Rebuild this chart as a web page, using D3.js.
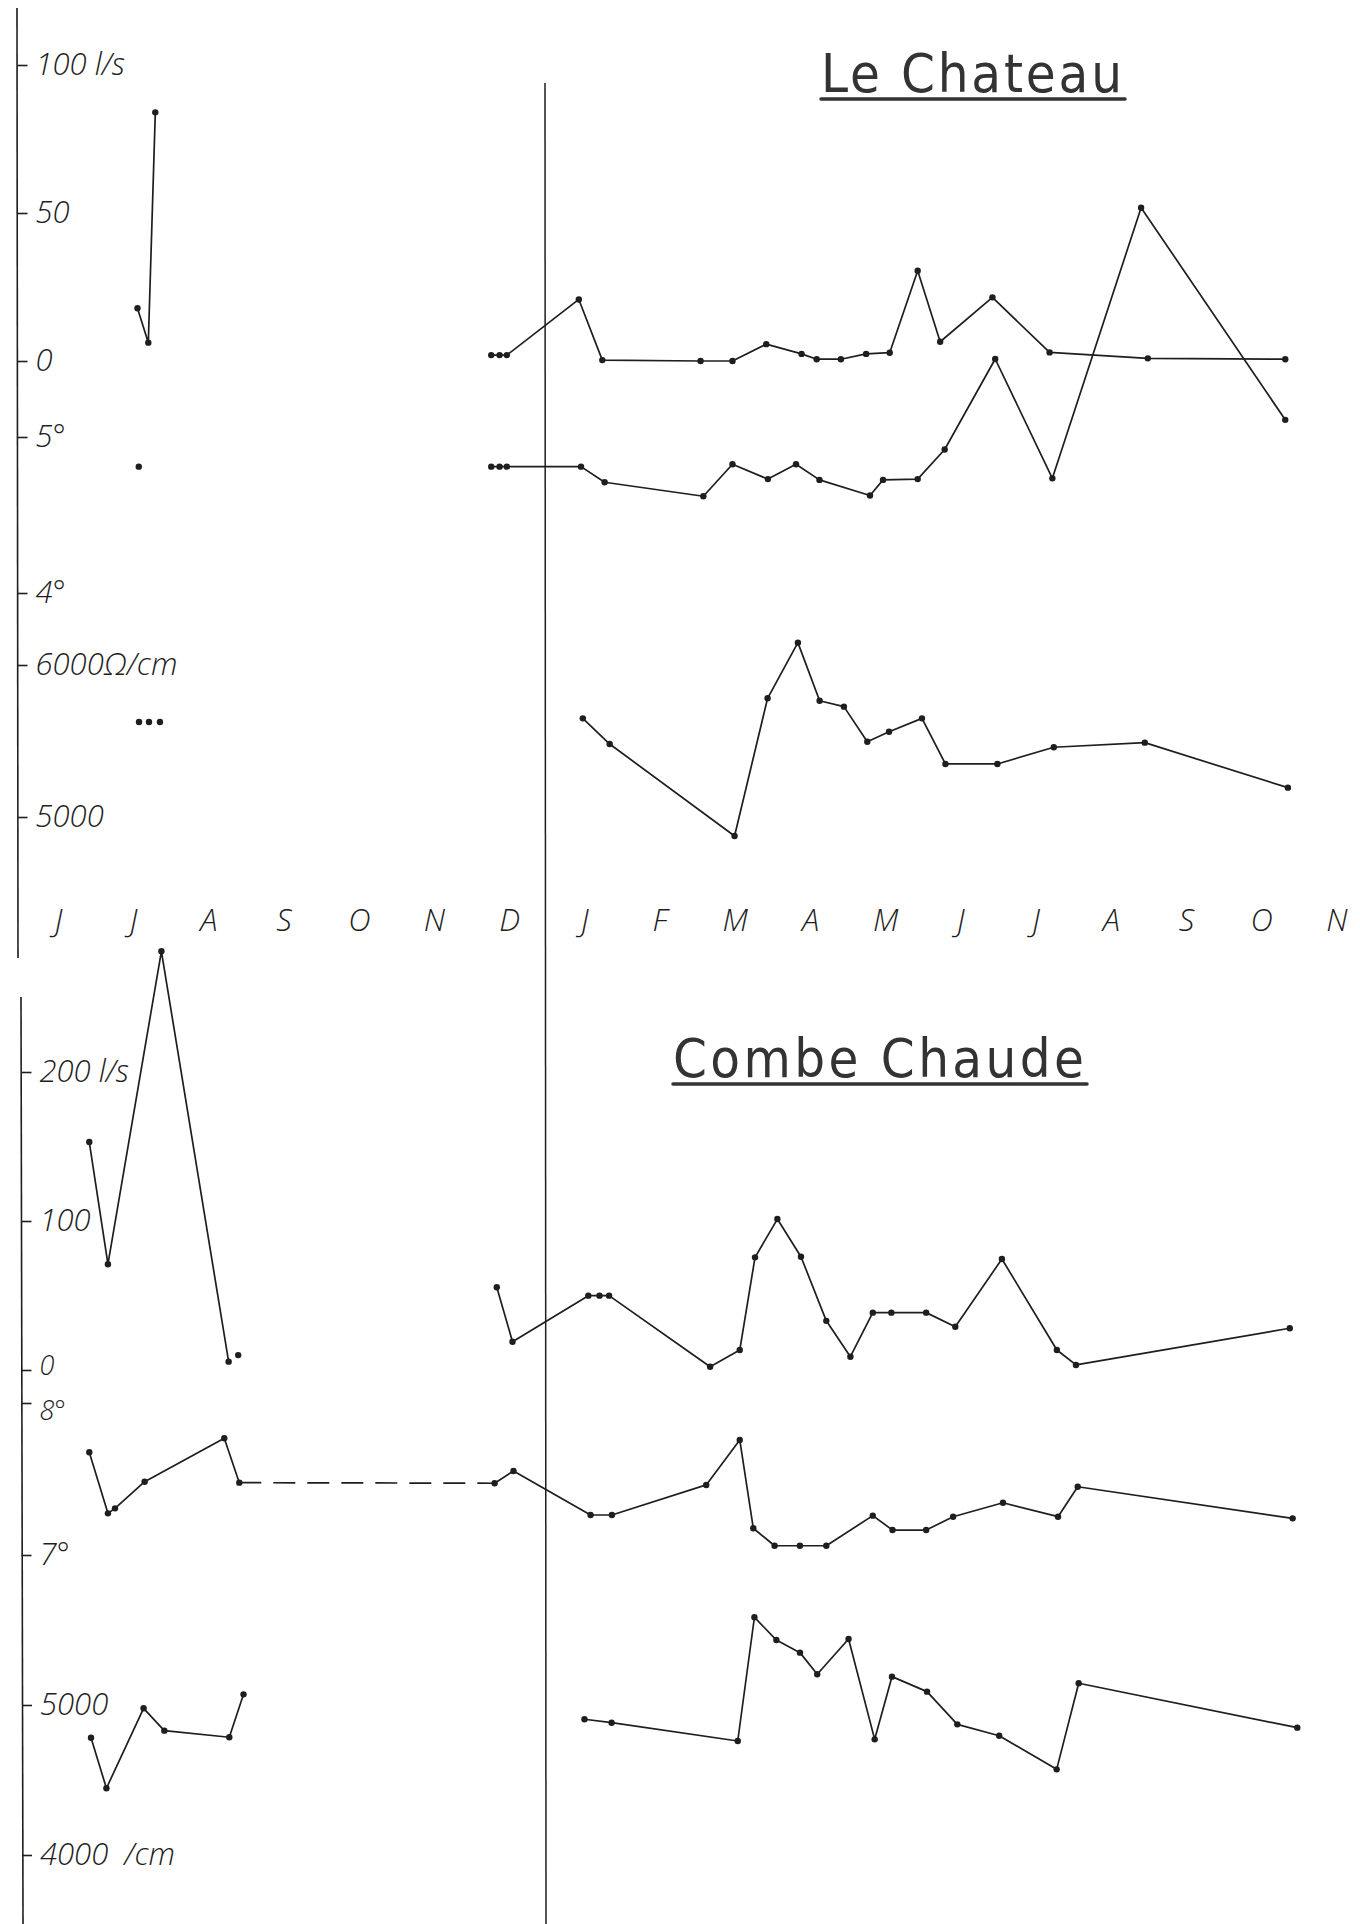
<!DOCTYPE html>
<html><head><meta charset="utf-8">
<script src="https://cdn.jsdelivr.net/npm/d3@7"></script>
<style>html,body{margin:0;padding:0;background:#fff}</style>
</head><body>
<svg id="c" width="1360" height="1924"></svg>
<script>
// ---------- DATA ----------
const months = ["J","J","A","S","O","N","D","J","F","M","A","M","J","J","A","S","O","N"];

// Le Chateau : débit (l/s), température (°), résistivité (Ω/cm)  [month position, value]
const chFlowEarly = [[1.057,17.8],[1.201,6.2],[1.294,84]];
const chFlow = [[5.761,2],[5.872,2],[5.969,2],[6.926,20.8],[7.238,0.3],[8.545,0],[8.969,0],[9.418,5.7],[9.888,2.4],[10.089,0.6],[10.411,0.6],[10.746,2.4],[11.060,2.8],[11.432,30.5],[11.731,6.5],[12.426,21.5],[13.186,2.9],[14.492,0.9],[16.320,0.6]];
const chTempEarly = [[1.074,4.81]];
const chTemp = [[5.761,4.81],[5.872,4.81],[5.969,4.81],[6.955,4.81],[7.269,4.71],[8.582,4.62],[8.969,4.825],[9.440,4.73],[9.814,4.825],[10.126,4.725],[10.798,4.625],[10.971,4.725],[11.432,4.73],[11.791,4.92],[12.463,5.50],[13.223,4.735],[14.403,6.47],[16.320,5.11]];
const chResEarly = [[1.077,5625],[1.210,5625],[1.356,5625]];
const chRes = [[6.979,5649],[7.336,5480],[8.997,4875],[9.436,5781],[9.839,6147],[10.128,5765],[10.451,5726],[10.762,5495],[11.051,5561],[11.489,5649],[11.801,5349],[12.492,5349],[13.242,5459],[14.452,5489],[16.355,5193]];

// Combe Chaude
const ccFlowEarly = [[0.416,153],[0.664,71],[1.375,281],[2.269,5.6]];
const ccFlowLone = [[2.396,10]];
const ccFlow = [[5.835,55.5],[6.044,19],[7.052,49.9],[7.201,49.9],[7.328,49.9],[8.672,2.2],[9.066,13.4],[9.269,75.6],[9.566,101.3],[9.880,76],[10.217,33],[10.537,8.9],[10.835,38.5],[11.082,38.5],[11.545,38.5],[11.932,29],[12.552,74.5],[13.283,13.4],[13.537,3.4],[16.380,28]];
const ccTempEarly = [[0.416,7.676],[0.664,7.274],[0.758,7.307],[1.152,7.482],[2.211,7.768],[2.411,7.476]];
const ccTemp = [[5.806,7.472],[6.057,7.553],[7.082,7.263],[7.366,7.263],[8.620,7.461],[9.066,7.757],[9.246,7.176],[9.529,7.061],[9.866,7.061],[10.217,7.061],[10.835,7.259],[11.097,7.164],[11.545,7.164],[11.903,7.252],[12.566,7.344],[13.298,7.252],[13.560,7.449],[16.418,7.241]];
const ccResEarly = [[0.439,4782],[0.644,4445],[1.138,4978],[1.414,4829],[2.278,4785],[2.467,5071]];
const ccRes = [[7.001,4905],[7.362,4882],[9.039,4760],[9.261,5585],[9.553,5433],[9.867,5349],[10.096,5205],[10.513,5440],[10.860,4771],[11.090,5189],[11.556,5089],[11.959,4871],[12.516,4795],[13.280,4571],[13.573,5145],[16.480,4849]];

// tick values / labels
const chFlowTicks = [100,50,0], chFlowLabels = ["100 l/s","50","0"];
const chTempTicks = [5,4], chTempLabels = ["5°","4°"];
const chResTicks = [6000,5000], chResLabels = ["6000Ω/cm","5000"];
const ccFlowTicks = [200,100,0], ccFlowLabels = ["200 l/s","100","0"];
const ccTempTicks = [8,7], ccTempLabels = ["8°","7°"];
const ccResTicks = [5000,4000], ccResLabels = ["5000","4000  /cm"];
const titles = ["Le Chateau","Combe Chaude"];

// ---------- DRAW ----------
const svg = d3.select("#c");
const ink = "#1e1e1e";
const x = d3.scaleLinear().domain([0,17]).range([58,1336.4]);

const yChFlow = d3.scaleLinear().domain([0,100]).range([361,65]);
const yChTemp = d3.scaleLinear().domain([4,5]).range([593,437]);
const yChRes  = d3.scaleLinear().domain([5000,6000]).range([817,665]);
const yCcFlow = d3.scaleLinear().domain([0,200]).range([1370,1072]);
const yCcTemp = d3.scaleLinear().domain([7,8]).range([1555,1403]);
const yCcRes  = d3.scaleLinear().domain([4000,5000]).range([1855,1705]);

const labelFont = "'Open Sans', 'DejaVu Sans', sans-serif";

// frame lines (left axes and the separating vertical)
svg.append("line").attr("x1",17).attr("y1",8).attr("x2",18).attr("y2",958).attr("stroke",ink).attr("stroke-width",1.6);
svg.append("line").attr("x1",21).attr("y1",997).attr("x2",23).attr("y2",1924).attr("stroke",ink).attr("stroke-width",1.6);
svg.append("line").attr("x1",545).attr("y1",83).attr("x2",546).attr("y2",1924).attr("stroke",ink).attr("stroke-width",1.5);

function yAxis(scale, ticks, labels, ax, tweak) {
  const g = svg.append("g").attr("transform",`translate(${ax},0)`)
    .call(d3.axisRight(scale).tickValues(ticks).tickSize(10).tickPadding(8).tickFormat((d,i)=>labels[i]));
  g.select(".domain").remove();
  g.selectAll(".tick line").attr("stroke",ink).attr("stroke-width",1.6);
  g.selectAll(".tick text").attr("fill",ink).attr("font-family",labelFont)
    .attr("font-size",31).attr("font-style","italic").attr("font-weight",300)
    .style("white-space","pre");
  if (tweak) g.selectAll(".tick text").each(function(d){
    const t = tweak[d]; if (t) d3.select(this).attr("y",t.dy).attr("font-size",t.size);
  });
}
yAxis(yChFlow, chFlowTicks, chFlowLabels, 17.5);
yAxis(yChTemp, chTempTicks, chTempLabels, 17.5);
yAxis(yChRes, chResTicks, chResLabels, 17.5);
yAxis(yCcFlow, ccFlowTicks, ccFlowLabels, 21.5, {0:{dy:-4,size:27}});
yAxis(yCcTemp, ccTempTicks, ccTempLabels, 21.5, {8:{dy:8,size:27}});
yAxis(yCcRes, ccResTicks, ccResLabels, 22);

// month row
const mg = svg.append("g").attr("transform","translate(0,909)")
  .call(d3.axisBottom(x).tickValues(d3.range(months.length)).tickSize(0).tickPadding(0).tickFormat(i=>months[i]));
mg.select(".domain").remove();
mg.selectAll(".tick text").attr("fill",ink).attr("font-family",labelFont)
  .attr("font-size",31).attr("font-style","italic").attr("font-weight",300);

// titles
function title(txt, x0, x1, base) {
  svg.append("text").attr("x",x0).attr("y",base).text(txt)
    .attr("font-family","'DejaVu Sans', sans-serif").attr("font-size",54)
    .attr("font-stretch","condensed").style("font-stretch","condensed")
    .attr("fill","#333").attr("textLength",x1-x0).attr("lengthAdjust","spacing");
  svg.append("line").attr("x1",x0).attr("x2",x1+3).attr("y1",base+7).attr("y2",base+7)
    .attr("stroke","#333").attr("stroke-width",3.5).attr("stroke-linecap","round");
}
title(titles[0], 821, 1122, 92);
title(titles[1], 673, 1084, 1077);

// series
function series(data, yS, opts={}) {
  const line = d3.line().x(d=>x(d[0])).y(d=>yS(d[1]));
  if (opts.line !== false && data.length > 1) {
    svg.append("path").datum(data).attr("d",line).attr("fill","none")
      .attr("stroke",ink).attr("stroke-width",1.7).attr("stroke-linejoin","round")
      .attr("stroke-dasharray",opts.dash||null);
  }
  if (opts.dots !== false) {
    svg.append("g").selectAll("circle").data(data).join("circle")
      .attr("cx",d=>x(d[0])).attr("cy",d=>yS(d[1])).attr("r",3.2).attr("fill",ink);
  }
}
series(chFlowEarly, yChFlow);
series(chFlow, yChFlow);
series(chTempEarly, yChTemp);
series(chTemp, yChTemp);
series(chResEarly, yChRes, {line:false});
series(chRes, yChRes);

series(ccFlowEarly, yCcFlow);
series(ccFlowLone, yCcFlow);
series(ccFlow, yCcFlow);
series(ccTempEarly, yCcTemp);
series([ccTempEarly[ccTempEarly.length-1], ccTemp[0]], yCcTemp, {dash:"22,12", dots:false});
series(ccTemp, yCcTemp);
series(ccResEarly, yCcRes);
series(ccRes, yCcRes);
</script>
</body></html>
